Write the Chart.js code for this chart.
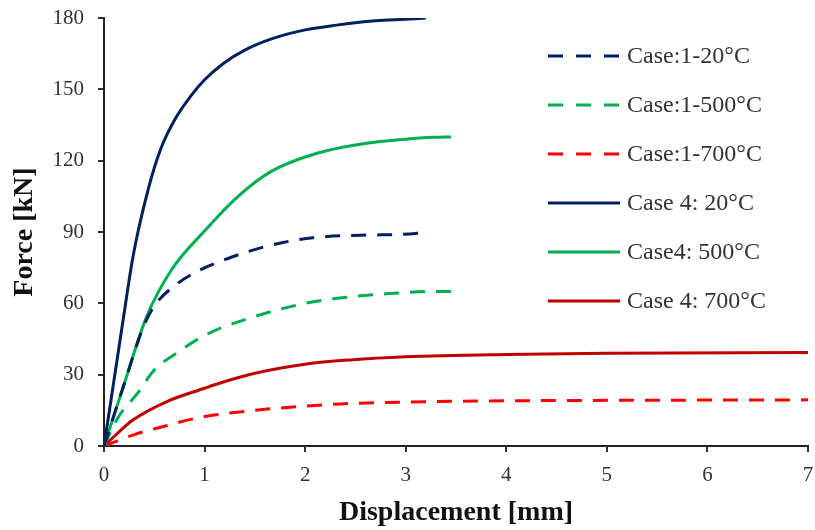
<!DOCTYPE html>
<html>
<head>
<meta charset="utf-8">
<script src="https://cdn.jsdelivr.net/npm/chart.js@4.4.1/dist/chart.umd.min.js"></script>
<style>
  html, body { margin: 0; padding: 0; background: #fff; }
  #wrap { width: 815px; height: 530px; }
</style>
</head>
<body>
<div id="wrap"><canvas id="forceChart" width="815" height="530"></canvas></div>
<script>
/* data (displacement mm / force kN) */
const seriesLabels = ["Case:1-20°C", "Case:1-500°C", "Case:1-700°C", "Case 4: 20°C", "Case4: 500°C", "Case 4: 700°C"];

const case1_20_x = [0, 0.2, 0.4, 0.52, 0.69, 0.92, 1.19, 1.48, 1.78, 2.08, 2.6, 3.1, 3.2];
const case1_20_y = [0, 26, 51, 60, 67, 73.3, 78.2, 82.4, 85.6, 87.6, 88.7, 89.4, 90.5];

const case1_500_x = [0, 0.14, 0.33, 0.5, 0.72, 1.0, 1.5, 2.0, 2.3, 2.8, 3.3, 3.45];
const case1_500_y = [0, 12, 22, 32, 39, 46.5, 54.5, 60, 62, 64, 65, 65];

const case1_700_x = [0, 0.3, 0.6, 0.95, 1.5, 2.0, 2.35, 3.0, 4.0, 5.0, 7.0];
const case1_700_y = [0, 4.8, 8.3, 12, 15, 16.8, 17.7, 18.5, 19, 19.2, 19.4];

const case4_20_x = [0, 0.09, 0.19, 0.29, 0.44, 0.56, 0.7, 0.86, 1.0, 1.19, 1.4, 1.68, 2.0, 2.31, 2.7, 3.0, 3.2];
const case4_20_y = [0, 25, 53, 80, 108, 124.5, 137, 147, 154, 161, 166.5, 171.4, 175, 177, 178.8, 179.5, 180];

const case4_500_x = [0, 0.2, 0.42, 0.67, 0.99, 1.32, 1.65, 2.11, 2.61, 3.0, 3.27, 3.45];
const case4_500_y = [0, 26, 54, 74, 90, 104.5, 115.2, 123, 127.3, 129, 129.8, 130];

const case4_700_x = [0, 0.1, 0.29, 0.62, 1.0, 1.14, 1.5, 2.0, 2.45, 3.0, 4.0, 5.0, 7.0];
const case4_700_y = [0, 4, 11, 18.6, 24.3, 26.3, 30.6, 34.4, 36.2, 37.5, 38.5, 39, 39.3];

const xTicks = [0, 1, 2, 3, 4, 5, 6, 7];
const yTicks = [0, 30, 60, 90, 120, 150, 180];

const FONT = "'Liberation Serif', 'Times New Roman', serif";
const NAVY = "#002060";
const GREEN = "#00B050";
const RED = "#FF0000";
const DARKRED = "#C00000";

function toPoints(xs, ys) {
  return xs.map((x, i) => ({ x: x, y: ys[i] }));
}

function makeSet(label, xs, ys, color, dashed) {
  return {
    label: label,
    data: toPoints(xs, ys),
    borderColor: color,
    backgroundColor: color,
    borderWidth: 3,
    borderDash: dashed ? [15, 11] : [],
    pointRadius: 0,
    fill: false,
    cubicInterpolationMode: "monotone"
  };
}

/* legend drawn inside the plot, like the original */
const insideLegend = {
  id: "insideLegend",
  afterDraw(chart) {
    const ctx = chart.ctx;
    const x0 = 548, lineLen = 72, y0 = 56, gap = 49;
    ctx.save();
    ctx.font = "24px " + FONT;
    ctx.textBaseline = "middle";
    ctx.fillStyle = "#333";
    chart.data.datasets.forEach((ds, i) => {
      const y = y0 + i * gap;
      ctx.beginPath();
      ctx.setLineDash(ds.borderDash.length ? [15, 13] : []);
      ctx.strokeStyle = ds.borderColor;
      ctx.lineWidth = 3;
      ctx.moveTo(x0, y);
      ctx.lineTo(x0 + lineLen, y);
      ctx.stroke();
      ctx.setLineDash([]);
      ctx.fillText(ds.label, x0 + lineLen + 7, y + 1);
    });
    ctx.restore();
  }
};

const forceChartElement = document.getElementById("forceChart");

new Chart(forceChartElement, {
  type: "line",
  data: {
    datasets: [
      makeSet(seriesLabels[0], case1_20_x, case1_20_y, NAVY, true),
      makeSet(seriesLabels[1], case1_500_x, case1_500_y, GREEN, true),
      makeSet(seriesLabels[2], case1_700_x, case1_700_y, RED, true),
      makeSet(seriesLabels[3], case4_20_x, case4_20_y, NAVY, false),
      makeSet(seriesLabels[4], case4_500_x, case4_500_y, GREEN, false),
      makeSet(seriesLabels[5], case4_700_x, case4_700_y, DARKRED, false)
    ]
  },
  options: {
    responsive: false,
    animation: false,
    layout: { padding: { top: 18, right: 7, left: 0, bottom: 0 } },
    plugins: {
      legend: { display: false },
      tooltip: { enabled: false }
    },
    scales: {
      x: {
        type: "linear",
        min: 0,
        max: 7,
        afterBuildTicks: (scale) => { scale.ticks = xTicks.map(v => ({ value: v })); },
        ticks: { font: { family: FONT, size: 21 }, color: "#333", padding: 11, maxRotation: 0 },
        grid: { drawOnChartArea: false, drawTicks: true, tickLength: 6, color: "#333", lineWidth: 2 },
        border: { color: "#222", width: 2 },
        title: { display: true, text: "Displacement [mm]", font: { family: FONT, size: 28, weight: "bold" }, color: "#111", padding: { top: 0, bottom: 0 } },
        afterFit: (scale) => {
          scale.height = 84;
          // edge labels may hang over, the plot area is fixed by layout padding
          scale.paddingLeft = 0;
          scale.paddingRight = 0;
        }
      },
      y: {
        type: "linear",
        min: 0,
        max: 180,
        afterBuildTicks: (scale) => { scale.ticks = yTicks.map(v => ({ value: v })); },
        ticks: { font: { family: FONT, size: 21 }, color: "#333", padding: 14 },
        grid: { drawOnChartArea: false, drawTicks: true, tickLength: 6, color: "#333", lineWidth: 2 },
        border: { color: "#222", width: 2 },
        title: { display: true, text: "Force [kN]", font: { family: FONT, size: 28, weight: "bold" }, color: "#111", padding: { top: 8, bottom: 0 } },
        afterFit: (scale) => {
          scale.width = 104;
          scale.paddingTop = 0;
          scale.paddingBottom = 0;
        }
      }
    }
  },
  plugins: [insideLegend]
});
</script>
</body>
</html>
